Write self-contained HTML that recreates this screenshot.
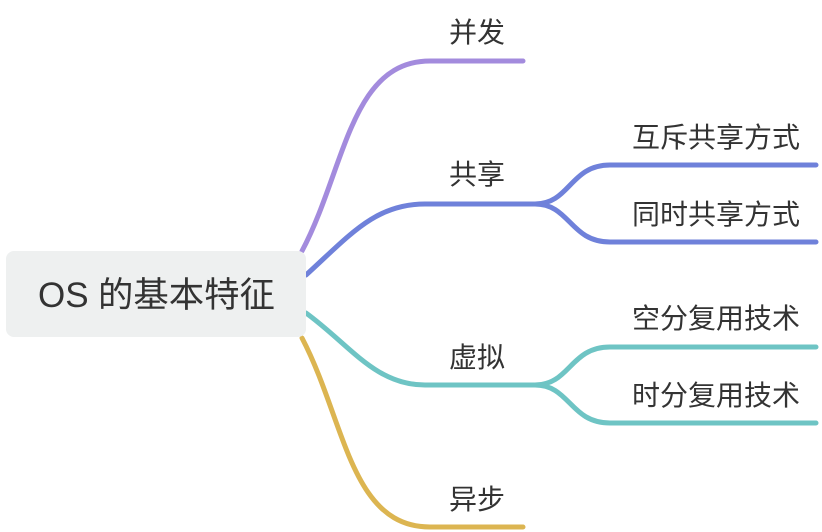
<!DOCTYPE html>
<html lang="zh">
<head>
<meta charset="utf-8">
<style>
html,body{margin:0;padding:0;background:#fff;width:822px;height:532px;overflow:hidden}
svg{display:block}
text{font-family:"Liberation Sans","Noto Sans CJK SC",sans-serif;fill:#333;font-size:28px}
path{fill:none;stroke-width:5;stroke-linecap:round}
</style>
</head>
<body>
<svg width="822" height="532" viewBox="0 0 822 532" xmlns="http://www.w3.org/2000/svg">
<path stroke="#a38bdd" d="M302 251C345 170 350 61 430 61L523 61"/>
<path stroke="#6f81da" d="M306 275C350 235 375 204 425 204L540 204"/>
<path stroke="#6f81da" d="M535 204C570 204 570 165 610 165L816 165"/>
<path stroke="#6f81da" d="M535 204C570 204 570 242 610 242L816 242"/>
<path stroke="#6ec4c4" d="M306 313C350 345 375 385 425 385L540 385"/>
<path stroke="#6ec4c4" d="M535 385C570 385 570 347 610 347L816 347"/>
<path stroke="#6ec4c4" d="M535 385C570 385 570 423 610 423L816 423"/>
<path stroke="#dcb551" d="M302 338C345 420 350 527 430 527L523 527"/>
<rect x="6" y="251" width="300" height="86" rx="8" ry="8" fill="#eef0f0"/>
<text x="38" y="307" style="font-size:35px">OS</text>
<text x="98" y="307" style="font-size:35.4px">的基本特征</text>
<text x="449" y="42">并发</text>
<text x="449" y="184">共享</text>
<text x="449" y="367">虚拟</text>
<text x="449" y="509">异步</text>
<text x="632" y="147">互斥共享方式</text>
<text x="632" y="224">同时共享方式</text>
<text x="632" y="328">空分复用技术</text>
<text x="632" y="405">时分复用技术</text>
</svg>
</body>
</html>
